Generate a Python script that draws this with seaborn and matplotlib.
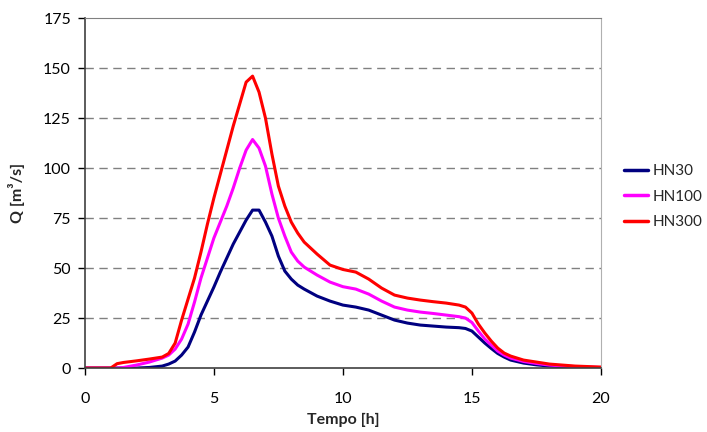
import matplotlib
matplotlib.use("Agg")
import matplotlib.pyplot as plt
import seaborn as sns
import pandas as pd

tempo = [0, 1, 1.25, 1.5, 2, 2.5, 3, 3.25, 3.5, 3.75, 4, 4.25, 4.5, 4.75, 5, 5.25, 5.5, 5.75,
         6, 6.25, 6.5, 6.75, 7, 7.25, 7.5, 7.75, 8, 8.25, 8.5, 9, 9.5, 10, 10.5, 11, 11.5, 12,
         12.5, 13, 13.5, 14, 14.5, 14.75, 15, 15.25, 15.5, 15.75, 16, 16.25, 16.5, 17, 17.5,
         18, 19, 20]
hn30 = [0, 0, 0, 0, 0, 0.3, 1, 2, 3.5, 6.5, 10.5, 18, 26.5, 33.5, 40.5, 48, 55, 62,
        68, 74, 79, 79, 73, 66, 56, 48.5, 44.5, 41.5, 39.5, 36, 33.5, 31.5, 30.5, 29, 26.5, 24,
        22.5, 21.5, 21, 20.5, 20.2, 19.8, 18.5, 15.5, 12.5, 9.8, 7.3, 5.5, 4, 2.5, 1.6,
        1, 0.4, 0.1]
hn100 = [0, 0, 0, 0.3, 1.5, 3, 5, 6.5, 9.5, 14.5, 22, 33, 45, 55, 65, 73, 81, 90,
         100, 109, 114.3, 110, 101, 87, 75, 66, 58, 53.5, 50.5, 46.5, 43, 40.7, 39.5, 37, 33.5, 30.5,
         29, 28, 27.3, 26.5, 25.7, 25, 22.8, 18.5, 14.5, 11.5, 8.5, 6.5, 5, 3.3, 2.3,
         1.5, 0.7, 0.3]
hn300 = [0, 0, 2.2, 2.8, 3.6, 4.5, 5.5, 7.3, 12.5, 24, 34.5, 45, 58, 72, 85, 97, 109, 121,
         132, 143, 146, 138, 125, 107, 91, 81, 73, 67.5, 63, 57, 51.5, 49.3, 48, 44.5, 40, 36.5,
         35, 34, 33.2, 32.5, 31.5, 30.5, 27.5, 22, 17.5, 13.5, 10, 7.5, 6, 4, 3,
         2, 1, 0.5]
series_names = ["HN30", "HN100", "HN300"]
colors = ["#000080", "#FF00FF", "#FF0000"]

rows = []
for name, vals in zip(series_names, [hn30, hn100, hn300]):
    for t, v in zip(tempo, vals):
        rows.append({"Tempo": t, "Q": v, "serie": name})
df = pd.DataFrame(rows)

sns.set_style("white")
plt.rcParams["font.family"] = ["Lato", "DejaVu Sans"]

fig = plt.figure(figsize=(7.07, 4.32), dpi=100)
ax = fig.add_axes([0.120, 0.148, 0.730, 0.810])
sns.lineplot(data=df, x="Tempo", y="Q", hue="serie", palette=colors,
             hue_order=series_names, linewidth=2.2, ax=ax, sort=True)
for line in ax.get_lines():
    line.set_solid_joinstyle("round")

ax.set_xlim(0, 20)
ax.set_ylim(0, 175)
ax.set_xticks([0, 5, 10, 15, 20])
ax.set_yticks(range(0, 176, 25))
for y in range(25, 175, 25):
    ax.axhline(y, color="#808080", linestyle=(0, (6, 4)), linewidth=1, zorder=0)
ax.tick_params(axis="both", direction="out", length=5, width=1, colors="#000000",
               labelsize=11.5, bottom=True, left=True)
ax.tick_params(axis="x", pad=12)
ax.tick_params(axis="y", pad=5)
for side in ["left", "bottom"]:
    ax.spines[side].set_color("#404040")
    ax.spines[side].set_linewidth(1.2)
ax.spines["top"].set_color("#808080")
ax.spines["right"].set_color("#b0b0b0")
ax.set_xlabel("Tempo [h]", fontweight="bold", fontsize=11.5, labelpad=5)
ax.set_ylabel("Q [m³/s]", fontweight="bold", fontsize=11.5, labelpad=13)

leg = ax.legend(loc="center left", bbox_to_anchor=(1.044, 0.49), frameon=False,
                fontsize=11, handlelength=1.6, labelspacing=0.75, handletextpad=0.3,
                borderpad=0, borderaxespad=0)
for line in leg.get_lines():
    line.set_linewidth(2.5)

fig.savefig("out.png", dpi=100)
